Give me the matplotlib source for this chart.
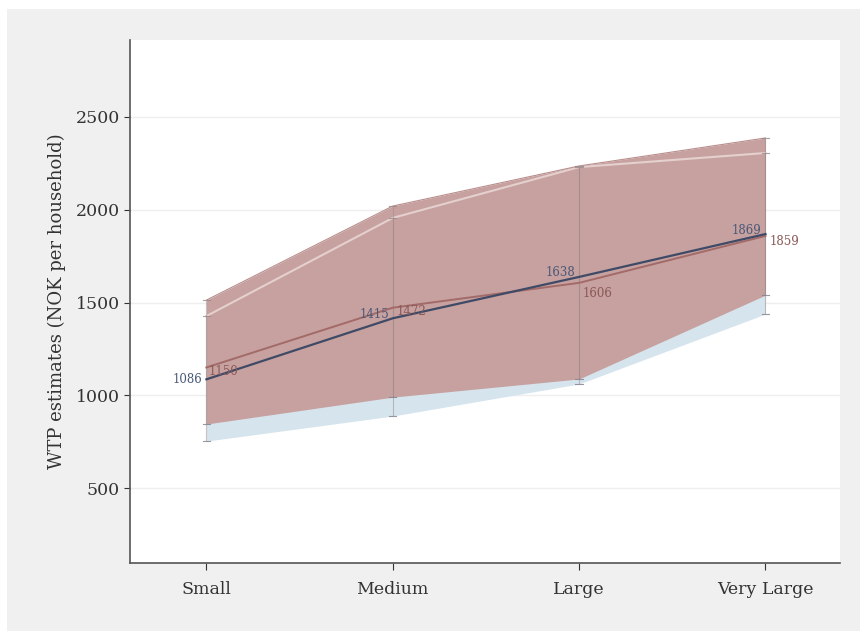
import matplotlib.pyplot as plt
from matplotlib.patches import Rectangle

# Data
sizes = ["Small", "Medium", "Large", "Very Large"]
x_pos = [1, 2, 3, 4]

blue_est = [1086, 1415, 1638, 1869]
blue_lo = [753, 888, 1061, 1438]
blue_hi = [1427, 1956, 2230, 2306]

red_est = [1150, 1472, 1606, 1859]
red_lo = [845, 990, 1088, 1540]
red_hi = [1513, 2020, 2236, 2387]

plt.rcParams['font.family'] = ['DejaVu Serif']

fig = plt.figure(figsize=(8.6, 6.31), dpi=100)
fig.patch.set_facecolor("white")
fig.patches.append(Rectangle((7 / 860, 0), 1, 1 - 9 / 631, transform=fig.transFigure,
                             facecolor="#f0f0f0", edgecolor="none", zorder=-10))

ax = fig.add_axes([130 / 860, 1 - 563 / 631, 710 / 860, 523 / 631])
ax.set_facecolor("white")

# confidence bands
ax.fill_between(x_pos, blue_lo, blue_hi, color="#d6e4ee", lw=0, zorder=2)
ax.fill_between(x_pos, red_lo, red_hi, color="#c7a19f", lw=0, zorder=3)
ax.plot(x_pos, blue_hi, color="#e4d0ce", lw=1.5, zorder=4)
ax.plot(x_pos, red_hi, color="#b88e8c", lw=0.8, zorder=4)

# capped spikes
for lo, hi in [(blue_lo, blue_hi), (red_lo, red_hi)]:
    ax.vlines(x_pos, lo, hi, color="#9a8a8a", lw=0.8, alpha=0.5, zorder=5)
    for xi, a, b in zip(x_pos, lo, hi):
        ax.plot([xi - 0.02, xi + 0.02], [a, a], color="#80808a", lw=0.8, alpha=0.8, zorder=5)
        ax.plot([xi - 0.02, xi + 0.02], [b, b], color="#9a8a8a", lw=0.8, alpha=0.8, zorder=5)

# point estimates
ax.plot(x_pos, red_est, color="#a26a68", lw=1.4, zorder=6)
ax.plot(x_pos, blue_est, color="#3e4a66", lw=1.6, zorder=7)

# value labels
blue_off = [(-0.1, 0), (-0.1, 18), (-0.1, 22), (-0.1, 18)]
red_off = [(0.01, -20), (0.02, -22), (0.02, -55), (0.02, -30)]
for xi, v, (dx, dy) in zip(x_pos, blue_est, blue_off):
    ax.text(xi + dx, v + dy, str(v), color="#4a5878", fontsize=8.5,
            ha="center", va="center", zorder=8)
for xi, v, (dx, dy) in zip(x_pos, red_est, red_off):
    ax.text(xi + dx, v + dy, str(v), color="#8a5856", fontsize=8.5,
            ha="left", va="center", zorder=8)

ax.set_xlim(0.59, 4.4)
ax.set_ylim(96, 2915)
ax.set_xticks(x_pos)
ax.set_xticklabels(sizes, fontsize=12.5, color="#333333")
ax.set_yticks([500, 1000, 1500, 2000, 2500])
ax.tick_params(axis="y", labelsize=12.5, colors="#333333", length=4, width=0.8)
ax.tick_params(axis="x", length=5, width=0.8, pad=8, colors="#333333")
ax.set_ylabel("WTP estimates (NOK per household)", fontsize=13, color="#333333", labelpad=7)
ax.grid(axis="y", color="#eeeeee", lw=1)
ax.set_axisbelow(True)

for s in ["top", "right"]:
    ax.spines[s].set_visible(False)
for s in ["left", "bottom"]:
    ax.spines[s].set_color("#555555")
    ax.spines[s].set_linewidth(1.2)

fig.savefig("out.png", dpi=100)
